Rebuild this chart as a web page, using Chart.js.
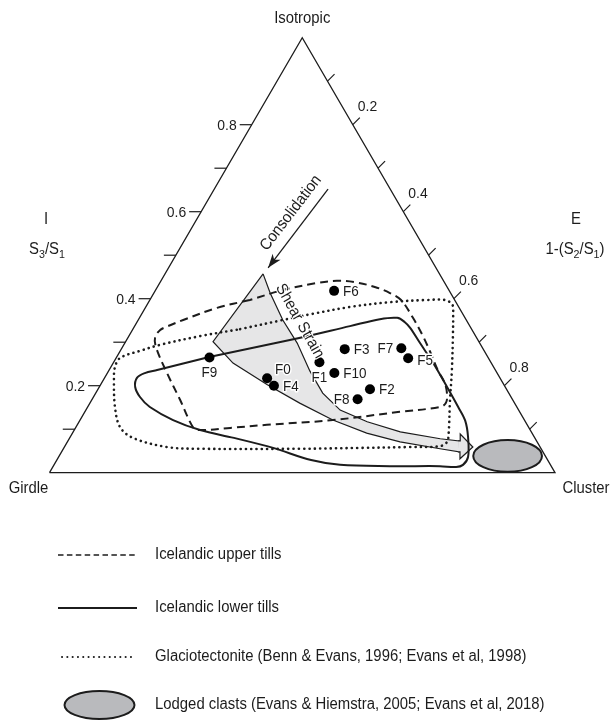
<!DOCTYPE html>
<html>
<head>
<meta charset="utf-8">
<script src="https://cdn.jsdelivr.net/npm/chart.js@4.4.1/dist/chart.umd.min.js"></script>
<style>
  html, body { margin: 0; padding: 0; background: #fff; }
  canvas { display: block; }
</style>
</head>
<body>
<canvas id="benn" width="611" height="720"></canvas>
<script>
// fabric shape samples: isotropy I = S3/S1, elongation E = 1 - S2/S1
const sites = ['F0', 'F1', 'F2', 'F3', 'F4', 'F5', 'F6', 'F7', 'F8', 'F9', 'F10'];
const isotropy = [0.217, 0.254, 0.192, 0.284, 0.200, 0.263, 0.418, 0.286, 0.169, 0.265, 0.229];
const elongation = [0.322, 0.407, 0.538, 0.442, 0.344, 0.578, 0.354, 0.553, 0.525, 0.184, 0.449];

// envelopes (I / E pairs round each outline)
const upperTillsI = [0.397, 0.379, 0.351, 0.335, 0.328, 0.312, 0.289, 0.229, 0.167, 0.105, 0.098, 0.103, 0.110, 0.121, 0.140,
  0.151, 0.160, 0.179, 0.206, 0.236, 0.278, 0.317, 0.356, 0.397, 0.413, 0.427, 0.438, 0.441, 0.436, 0.420];
const upperTillsE = [0.198, 0.142, 0.089, 0.063, 0.055, 0.053, 0.066, 0.118, 0.175, 0.231, 0.245, 0.306, 0.375, 0.500, 0.623,
  0.697, 0.704, 0.697, 0.679, 0.650, 0.614, 0.579, 0.541, 0.497, 0.467, 0.430, 0.385, 0.348, 0.311, 0.252];

const lowerTillsI = [0.266, 0.305, 0.337, 0.353, 0.356, 0.346, 0.333, 0.298, 0.252, 0.197, 0.151, 0.119, 0.082, 0.036, 0.018,
  0.013, 0.015, 0.015, 0.018, 0.029, 0.057, 0.080, 0.098, 0.121, 0.151, 0.174, 0.197, 0.218, 0.229, 0.236];
const lowerTillsE = [0.183, 0.323, 0.426, 0.477, 0.510, 0.530, 0.547, 0.584, 0.633, 0.688, 0.733, 0.763, 0.787, 0.810, 0.809,
  0.798, 0.765, 0.666, 0.566, 0.503, 0.414, 0.325, 0.249, 0.184, 0.123, 0.092, 0.071, 0.064, 0.074, 0.095];

const glacioI = [0.330, 0.351, 0.365, 0.381, 0.392, 0.397, 0.397, 0.386, 0.367, 0.312, 0.236, 0.160, 0.098, 0.071, 0.061,
  0.059, 0.057, 0.055, 0.055, 0.059, 0.080, 0.105, 0.151, 0.213, 0.243, 0.264, 0.280, 0.294, 0.314];
const glacioE = [0.212, 0.286, 0.337, 0.404, 0.477, 0.548, 0.584, 0.604, 0.615, 0.642, 0.678, 0.712, 0.741, 0.751, 0.742,
  0.684, 0.586, 0.468, 0.271, 0.203, 0.125, 0.087, 0.054, 0.021, 0.008, 0.008, 0.039, 0.072, 0.141];

// shear strain path and its head
const shearI = [0.457, 0.413, 0.351, 0.298, 0.234, 0.183, 0.144, 0.117, 0.094, 0.078, 0.073, 0.048, 0.055, 0.071, 0.091,
  0.121, 0.160, 0.202, 0.252, 0.301];
const shearE = [0.194, 0.230, 0.286, 0.341, 0.398, 0.449, 0.503, 0.570, 0.647, 0.734, 0.774, 0.786, 0.745, 0.658, 0.582,
  0.500, 0.415, 0.330, 0.237, 0.173];
const shearHeadI = [0.073, 0.073, 0.089, 0.059, 0.032, 0.048, 0.048];
const shearHeadE = [0.772, 0.776, 0.768, 0.808, 0.796, 0.788, 0.784];

const consolidationI = [0.652, 0.471];
const consolidationE = [0.225, 0.197];

// lodged clasts field (range of I and E)
const lodgedI = [0.002, 0.075];
const lodgedE = [0.819, 0.955];

const isoTicks = [0.1, 0.2, 0.3, 0.4, 0.5, 0.6, 0.7, 0.8];
const elongTicks = [0.1, 0.2, 0.3, 0.4, 0.5, 0.6, 0.7, 0.8, 0.9];
const tickLabels = ['0.2', '0.4', '0.6', '0.8'];

const legendLabels = [
  'Icelandic upper tills',
  'Icelandic lower tills',
  'Glaciotectonite (Benn & Evans, 1996; Evans et al, 1998)',
  'Lodged clasts (Evans & Hiemstra, 2005; Evans et al, 2018)'
];

const labelSide = { F0: 'upright', F1: 'below', F2: 'right', F3: 'right', F4: 'right', F5: 'right',
  F6: 'right', F7: 'left', F8: 'left', F9: 'below', F10: 'right' };

const INK = '#1c1c1c';
const FONT = '"Liberation Sans", Arial, Helvetica, sans-serif';
const SQUEEZE = 0.93;

const project = (I, E) => ({ x: E + I / 2, y: I });
const path = (Is, Es) => Is.map((v, k) => project(v, Es[k]));
const ring = (Is, Es) => path(Is, Es).concat([project(Is[0], Es[0])]);

function text(ctx, s, x, y, align, base, size, rot, halo) {
  ctx.save();
  ctx.translate(x, y);
  if (rot) ctx.rotate(rot);
  ctx.scale(SQUEEZE, 1);
  ctx.font = size + 'px ' + FONT;
  ctx.textAlign = align;
  ctx.textBaseline = base;
  if (halo) {
    ctx.strokeStyle = '#fff';
    ctx.lineWidth = halo;
    ctx.lineJoin = 'round';
    ctx.strokeText(s, 0, 0);
  }
  ctx.fillStyle = INK;
  ctx.fillText(s, 0, 0);
  ctx.restore();
}

// text with subscripts, parts = [[string, isSub], ...], centred on x
function subText(ctx, parts, x, y, size) {
  ctx.save();
  ctx.fillStyle = INK;
  ctx.textBaseline = 'alphabetic';
  ctx.textAlign = 'left';
  let w = 0;
  parts.forEach(([s, sub]) => {
    ctx.font = (sub ? size * 0.72 : size) + 'px ' + FONT;
    w += ctx.measureText(s).width * SQUEEZE;
  });
  let cx = x - w / 2;
  parts.forEach(([s, sub]) => {
    ctx.font = (sub ? size * 0.72 : size) + 'px ' + FONT;
    ctx.save();
    ctx.translate(cx, y + (sub ? 4 : 0));
    ctx.scale(SQUEEZE, 1);
    ctx.fillText(s, 0, 0);
    ctx.restore();
    cx += ctx.measureText(s).width * SQUEEZE;
  });
  ctx.restore();
}

function seg(ctx, x1, y1, x2, y2) {
  ctx.beginPath();
  ctx.moveTo(x1, y1);
  ctx.lineTo(x2, y2);
  ctx.stroke();
}

const bennDecor = {
  id: 'bennDecor',
  afterDatasetsDraw(chart) {
    const { ctx, scales: { x, y } } = chart;
    const px = (I, E) => [x.getPixelForValue(E + I / 2), y.getPixelForValue(I)];
    ctx.save();
    ctx.strokeStyle = INK;
    ctx.lineWidth = 1.2;

    // isotropy ticks on the left edge
    isoTicks.forEach(t => {
      const [a, b] = px(t, 0);
      seg(ctx, a, b, a - 12, b);
      const lbl = t.toFixed(1);
      if (tickLabels.includes(lbl)) text(ctx, lbl, a - 15, b + 1, 'right', 'middle', 15);
    });
    // elongation ticks on the right edge
    elongTicks.forEach(t => {
      const [a, b] = px(1 - t, t);
      seg(ctx, a, b, a + 7, b - 7);
      const lbl = t.toFixed(1);
      if (tickLabels.includes(lbl)) text(ctx, lbl, a + 5, b - 14, 'left', 'alphabetic', 15);
    });

    // vertex names
    const [ax, ay] = px(1, 0);
    const [gx, gy] = px(0, 0);
    const [cx, cy] = px(0, 1);
    text(ctx, 'Isotropic', ax, ay - 19, 'center', 'middle', 16);
    text(ctx, 'Girdle', gx - 21, gy + 16, 'center', 'middle', 16);
    text(ctx, 'Cluster', cx + 31, cy + 16, 'center', 'middle', 16);

    // axis names
    text(ctx, 'I', 46, 220, 'center', 'middle', 16);
    subText(ctx, [['S', 0], ['3', 1], ['/S', 0], ['1', 1]], 47, 254, 16);
    text(ctx, 'E', 576, 220, 'center', 'middle', 16);
    subText(ctx, [['1-(S', 0], ['2', 1], ['/S', 0], ['1', 1], [')', 0]], 575, 254, 16);

    // lodged clasts ellipse
    const Ic = (lodgedI[0] + lodgedI[1]) / 2;
    const [e0] = px(Ic, lodgedE[0]);
    const [e1] = px(Ic, lodgedE[1]);
    const yTop = y.getPixelForValue(lodgedI[1]);
    const yBot = y.getPixelForValue(lodgedI[0]);
    ctx.beginPath();
    ctx.ellipse((e0 + e1) / 2, (yTop + yBot) / 2, (e1 - e0) / 2, (yBot - yTop) / 2, 0, 0, Math.PI * 2);
    ctx.fillStyle = '#b9babd';
    ctx.fill();
    ctx.lineWidth = 2;
    ctx.stroke();

    // consolidation arrow head
    const [s0, s1] = px(consolidationI[0], consolidationE[0]);
    const [t0, t1] = px(consolidationI[1], consolidationE[1]);
    const ang = Math.atan2(t1 - s1, t0 - s0);
    ctx.save();
    ctx.translate(t0, t1);
    ctx.rotate(ang);
    ctx.beginPath();
    ctx.moveTo(0, 0);
    ctx.lineTo(-14, -5);
    ctx.lineTo(-10, 0);
    ctx.lineTo(-14, 5);
    ctx.closePath();
    ctx.fillStyle = INK;
    ctx.fill();
    ctx.restore();

    // path annotations
    const [cl0, cl1] = px(0.597, 0.179);
    text(ctx, 'Consolidation', cl0, cl1, 'center', 'middle', 16, ang + Math.PI);
    const [sh0, sh1] = px(0.346, 0.316);
    text(ctx, 'Shear Strain', sh0 + 3, sh1 - 1, 'center', 'middle', 16, 60.5 * Math.PI / 180, 2);

    // site labels
    sites.forEach((s, k) => {
      const [a, b] = px(isotropy[k], elongation[k]);
      const side = labelSide[s];
      if (side === 'right') text(ctx, s, a + 9, b + (s === 'F5' ? 3 : 1), 'left', 'middle', 14.5, 0, 3);
      else if (side === 'left') text(ctx, s, a - 8, b + 1, 'right', 'middle', 14.5, 0, 3);
      else if (side === 'below') text(ctx, s, a, b + 16, 'center', 'middle', 14.5, 0, 3);
      else text(ctx, s, a + 8, b - 8, 'left', 'middle', 14.5, 0, 3);
    });
    ctx.restore();
  },
  afterDraw(chart) {
    const ctx = chart.ctx;
    const rows = [555, 608, 657, 705];
    ctx.save();
    ctx.strokeStyle = INK;
    ctx.lineCap = 'butt';
    // dashed
    ctx.lineWidth = 1.6;
    ctx.setLineDash([5.5, 3.4]);
    seg(ctx, 58, rows[0], 137, rows[0]);
    // solid
    ctx.lineWidth = 2;
    ctx.setLineDash([]);
    seg(ctx, 58, rows[1], 137, rows[1]);
    // dotted
    ctx.lineWidth = 2;
    ctx.lineCap = 'round';
    ctx.setLineDash([0.1, 5.2]);
    seg(ctx, 62, rows[2], 136, rows[2]);
    ctx.setLineDash([]);
    // ellipse
    ctx.beginPath();
    ctx.ellipse(99.5, rows[3], 35, 14, 0, 0, Math.PI * 2);
    ctx.fillStyle = '#b9babd';
    ctx.fill();
    ctx.lineWidth = 2;
    ctx.stroke();
    legendLabels.forEach((l, k) => text(ctx, l, 155, rows[k], 'left', 'middle', 16));
    ctx.restore();
  }
};

const line = (data, extra) => Object.assign({
  type: 'line', data, showLine: true, pointRadius: 0, borderColor: INK, borderWidth: 2,
  fill: false, tension: 0, clip: false
}, extra);

new Chart(document.getElementById('benn'), {
  type: 'scatter',
  data: {
    datasets: [
      {
        data: sites.map((s, k) => project(isotropy[k], elongation[k])),
        pointRadius: 5, pointBackgroundColor: '#000', pointBorderColor: '#000', pointBorderWidth: 0, clip: false
      },
      line(ring(upperTillsI, upperTillsE), { borderDash: [8, 5], tension: 0.35 }),
      line(ring(lowerTillsI, lowerTillsE), { tension: 0.35 }),
      line(ring(glacioI, glacioE), { borderDash: [0.1, 5.2], borderCapStyle: 'round', borderWidth: 2.6, tension: 0.35 }),
      line(path(consolidationI, consolidationE), { borderWidth: 1.3 }),
      line(path(shearHeadI, shearHeadE), { borderWidth: 1.2, fill: 'shape', backgroundColor: '#e6e6e7' }),
      line(ring(shearI, shearE), { borderWidth: 1.2, fill: 'shape', backgroundColor: '#e6e6e7' }),
      line([project(0, 0), project(0, 1), project(1, 0), project(0, 0)], { borderWidth: 1.3 })
    ]
  },
  options: {
    responsive: false,
    animation: false,
    events: [],
    layout: { padding: { left: 49.5, right: 56, top: 37.7, bottom: 247.3 } },
    scales: {
      x: { type: 'linear', min: 0, max: 1, display: false },
      y: { type: 'linear', min: 0, max: 1, display: false }
    },
    plugins: { legend: { display: false }, tooltip: { enabled: false } }
  },
  plugins: [bennDecor]
});
</script>
</body>
</html>
